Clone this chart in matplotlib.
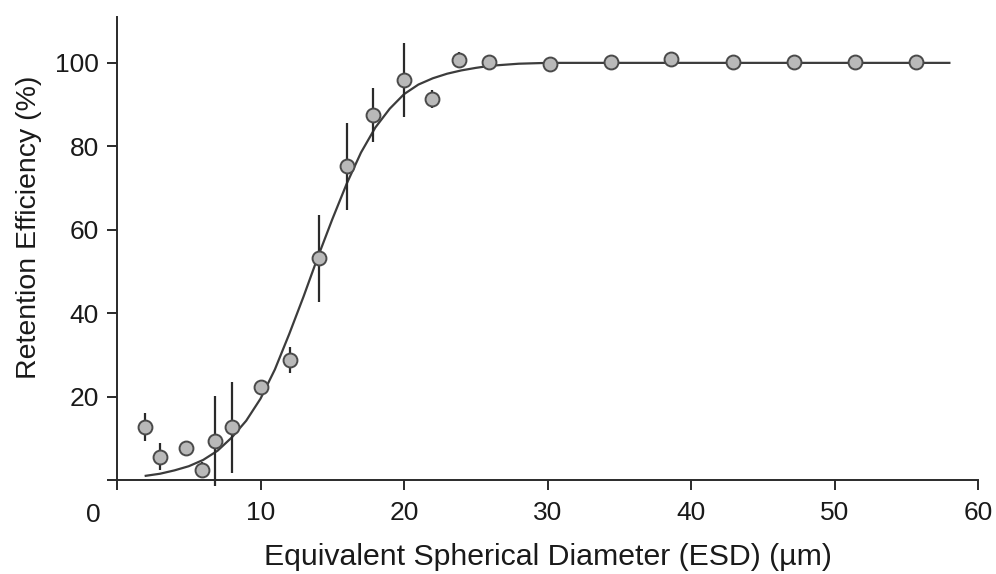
import numpy as np
import matplotlib
matplotlib.use("Agg")
import matplotlib.pyplot as plt

plt.rcParams["font.family"] = ["Liberation Sans", "DejaVu Sans"]

# measured points (ESD in um, retention in %)
esd = [1.94, 2.98, 4.79, 5.95, 6.83, 8.03, 10.0, 12.05, 14.1, 16.0, 17.85,
       20.0, 21.97, 23.8, 25.9, 30.2, 34.4, 38.6, 42.9, 47.2, 51.4, 55.7]
eff = [12.7, 5.6, 7.6, 2.4, 9.4, 12.6, 22.4, 28.8, 53.1, 75.2, 87.5,
       95.9, 91.3, 100.6, 100.2, 99.8, 100.2, 101.0, 100.2, 100.2, 100.2, 100.2]
err = [3.4, 3.3, 1.7, 2.0, 10.8, 11.0, 1.5, 3.1, 10.4, 10.5, 6.5,
       8.8, 2.2, 1.9, 0, 0, 0, 0, 0, 0, 0, 0]

# fitted curve
fit_x = [2, 3, 4, 5, 6, 7, 8, 9, 10, 11, 12, 13, 14, 15, 16, 17, 18, 19, 20,
         21, 22, 23, 24, 25, 26, 28, 30, 34, 58]
fit_y = [1.0, 1.5, 2.3, 3.3, 4.8, 7.0, 10.2, 14.2, 19.5, 26.5, 35, 44, 53.5,
         62.5, 71, 78.5, 84.5, 89, 92.5, 94.8, 96.3, 97.4, 98.2, 98.8, 99.3,
         99.8, 100, 100, 100]

xticks = [0, 10, 20, 30, 40, 50, 60]
yticks = [0, 20, 40, 60, 80, 100]

fig = plt.figure(figsize=(9.96, 5.74), dpi=100)
ax = fig.add_axes([0.1175, 0.1638, 0.8645, 0.8066])

ax.plot(fit_x, fit_y, color="#3c3c3c", lw=1.6, zorder=2)
eb = ax.errorbar(esd, eff, yerr=err, fmt="none", ecolor="#2a2a2a",
                 elinewidth=1.6, capsize=0, zorder=3)
for c in eb[2]:
    c.set_clip_on(False)
ax.plot(esd, eff, "o", ms=10, mfc="#b9b9b9", mec="#4a4a4a", mew=1.4,
        zorder=4, clip_on=False)

ax.set_xlim(0, 60)
ax.set_ylim(0, 111)
ax.set_xticks(xticks)
ax.set_xticklabels([""] + [str(t) for t in xticks[1:]])
ax.set_yticks(yticks)
ax.set_yticklabels([""] + [str(t) for t in yticks[1:]])
ax.annotate("0", xy=(0, 0), xycoords="axes fraction", xytext=(-17, -25),
            textcoords="offset points", ha="center", va="center",
            fontsize=19, color="#1a1a1a")

for s in ["top", "right"]:
    ax.spines[s].set_visible(False)
for s in ["left", "bottom"]:
    ax.spines[s].set_linewidth(1.4)
    ax.spines[s].set_color("#2a2a2a")
ax.tick_params(direction="out", length=7, width=1.4, color="#2a2a2a",
               labelsize=19, labelcolor="#1a1a1a", pad=6)
ax.tick_params(axis="x", pad=8)

ax.set_xlabel("Equivalent Spherical Diameter (ESD) (µm)", fontsize=21.8,
              color="#1a1a1a", labelpad=13)
ax.set_ylabel("Retention Efficiency (%)", fontsize=20.5, color="#1a1a1a")
ax.yaxis.set_label_coords(-0.087, 0.546)

fig.savefig("out.png", dpi=100)
